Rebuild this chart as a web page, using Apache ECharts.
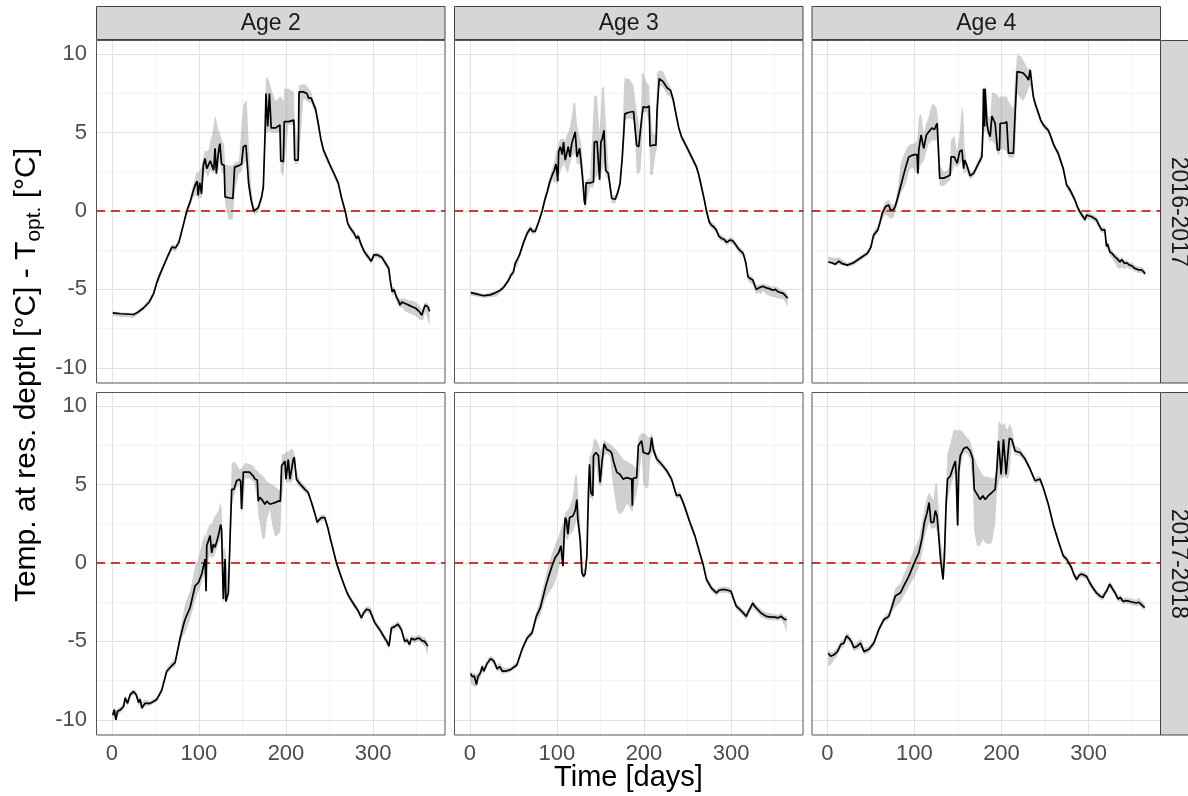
<!DOCTYPE html>
<html>
<head>
<meta charset="utf-8">
<script src="https://cdn.jsdelivr.net/npm/echarts@6/dist/echarts.min.js"></script>
<style>
  html, body { margin: 0; padding: 0; background: #ffffff; }
  #chart { width: 1188px; height: 796px; }
</style>
</head>
<body>
<div id="chart"></div>
<script>
// Each row: [day, mean, min, max] of temperature at reservoir depth minus T_opt (°C)
const age2_1617 = [
  [1,-6.5,-6.7,-6.4],[10,-6.55,-6.75,-6.45],[25,-6.6,-6.8,-6.5],[30,-6.45,-6.6,-6.3],[36,-6.2,-6.35,-6.05],
  [43,-5.8,-5.95,-5.6],[48,-5.25,-5.45,-5.1],[52,-4.5,-4.7,-4.3],[54,-4.2,-4.5,-4.0],[59,-3.55,-3.75,-3.4],
  [64,-2.9,-3.1,-2.7],[69,-2.3,-2.5,-2.1],[73,-2.35,-2.6,-2.2],[77,-2.0,-2.2,-1.7],[82,-0.9,-1.1,-0.7],
  [86,0.0,-0.3,0.2],[90,0.6,0.3,0.9],[93,1.2,0.8,1.6],[96,1.7,1.0,2.2],[98,1.9,1.0,2.6],[99,1.0,0.7,2.4],
  [101,1.8,0.9,2.6],[103,1.1,0.8,2.8],[105,2.9,2.0,3.4],[107,3.35,2.6,3.9],[109,2.7,2.3,3.8],[111,2.6,2.2,3.9],
  [113,3.2,2.6,4.5],[115,3.15,2.5,4.8],[117,2.6,2.4,5.5],[118.5,4.0,3.0,6.1],[120,2.4,2.2,5.8],[122,3.6,2.5,5.2],
  [124,4.3,3.2,5.0],[126,3.0,2.5,4.6],[129,2.9,2.3,4.2],[130,0.9,0.5,3.0],[134,0.85,-0.57,2.9],[139,0.8,-0.5,2.9],
  [141,2.8,1.2,3.1],[146,2.9,2.4,3.2],[149,3.0,2.5,5.5],[151,4.1,3.0,6.8],[154,4.2,3.2,7.0],[155,4.3,3.4,7.0],
  [157,1.8,1.2,4.5],[160,0.7,0.4,1.5],[163,0.0,-0.2,0.3],[165,-0.05,-0.2,0.2],[168,0.2,-0.1,0.4],[172,0.9,0.6,1.2],
  [174,1.55,1.2,2.0],[176,5.0,4.5,6.5],[177,7.5,5.0,8.5],[179,5.4,5.0,8.5],[181,7.5,5.1,8.2],[183,5.3,5.0,7.8],
  [188,5.3,5.0,7.0],[193,5.5,5.0,7.3],[194,3.2,2.5,7.3],[197,3.15,2.2,7.0],[198,5.7,3.0,7.8],[203,5.7,5.5,7.8],
  [209,5.8,5.5,7.6],[210,3.25,3.0,5.8],[214,3.25,3.0,4.0],[215,7.6,3.3,8.0],[220,7.6,7.2,8.1],[224,7.5,7.0,8.0],
  [226,7.2,6.9,7.8],[229,7.2,6.9,7.6],[231,6.9,6.6,7.2],[234,6.5,6.2,6.8],[237,5.6,5.3,5.9],[240,4.6,4.3,4.9],
  [243,3.9,3.6,4.1],[247,3.4,3.1,3.6],[250,3.0,2.8,3.2],[255,2.4,2.2,2.6],[260,1.8,1.5,2.0],[264,0.8,0.6,1.0],
  [268,0.0,-0.2,0.2],[271,-0.8,-1.0,-0.6],[274,-1.1,-1.3,-0.9],[278,-1.4,-1.6,-1.2],[281,-1.75,-1.95,-1.55],
  [283,-1.6,-1.8,-1.4],[286,-2.1,-2.3,-1.9],[290,-2.6,-2.8,-2.4],[294,-2.9,-3.1,-2.7],[298,-3.2,-3.4,-3.0],
  [301,-2.8,-3.0,-2.65],[305,-2.8,-3.0,-2.65],[310,-2.95,-3.1,-2.75],[314,-3.3,-3.5,-3.1],[318,-3.65,-3.85,-3.45],
  [320,-4.5,-4.8,-4.2],[322,-5.15,-5.4,-4.9],[324,-5.0,-5.3,-4.8],[327,-5.5,-5.8,-5.25],[329,-5.7,-6.0,-5.5],
  [331,-6.0,-6.2,-5.6],[333,-5.8,-6.1,-5.6],[337,-5.9,-6.4,-5.6],[341,-6.0,-6.5,-5.7],[345,-6.1,-6.6,-5.7],
  [349,-6.2,-6.7,-5.8],[353,-6.4,-6.9,-6.0],[356,-6.65,-7.0,-6.3],[358,-6.3,-6.9,-6.0],[360,-6.0,-6.4,-5.8],
  [363,-6.1,-7.0,-5.9],[365,-6.4,-7.3,-6.1]
];
const age3_1617 = [
  [1,-5.2,-5.4,-5.1],[8,-5.3,-5.45,-5.15],[16,-5.4,-5.55,-5.3],[23,-5.35,-5.5,-5.2],[28,-5.25,-5.45,-5.1],
  [30,-5.35,-5.5,-5.2],[35,-5.05,-5.2,-4.9],[39,-4.85,-5.0,-4.7],[44,-4.45,-4.6,-4.3],[47,-4.1,-4.3,-3.9],
  [50,-3.9,-4.1,-3.7],[52,-3.35,-3.6,-3.1],[54,-3.4,-3.6,-3.2],[57,-2.8,-3.0,-2.6],[62,-1.95,-2.15,-1.75],
  [66,-1.4,-1.6,-1.2],[69.5,-1.1,-1.3,-0.9],[72,-1.3,-1.5,-1.1],[75,-1.3,-1.5,-1.1],[79,-0.7,-0.9,-0.5],
  [83,0.0,-0.2,0.2],[86,0.7,0.4,1.0],[89,1.25,1.0,1.6],[92,1.9,1.6,2.3],[95,2.35,2.0,2.8],[97,2.6,1.8,3.2],
  [99,3.0,1.8,3.8],[101,1.9,1.7,4.0],[102,3.8,2.2,4.4],[104,4.1,2.5,4.6],[106,3.6,2.8,4.6],[107.6,4.4,3.0,4.6],
  [109.5,3.25,2.8,4.5],[111,3.6,2.5,4.8],[113,4.1,2.5,5.0],[115,3.45,3.0,5.4],[117,4.3,3.4,6.0],[119,4.4,3.6,6.9],
  [121,5.05,3.6,6.9],[123,3.45,3.0,5.5],[126,4.0,3.0,4.8],[128,3.0,2.5,4.2],[130,1.75,1.3,2.6],[131.5,0.6,0.3,1.8],
  [132.5,0.4,0.2,1.5],[133.5,1.8,0.5,2.0],[138,1.8,1.5,2.1],[142,1.85,1.5,6.5],[143,4.4,2.0,7.4],[146,4.45,2.2,7.3],
  [147.7,4.5,2.5,6.0],[149,2.0,1.8,5.0],[150.5,4.4,2.2,6.5],[152,4.6,2.6,7.9],[154,5.15,3.0,7.9],[156,2.6,2.2,5.8],
  [159,2.4,2.0,3.0],[161,1.6,1.2,2.0],[163,0.8,0.5,1.0],[167,0.75,0.5,1.0],[170,1.2,0.9,1.5],[172.5,1.75,1.5,2.0],
  [175,3.4,2.8,3.8],[177,5.2,4.0,8.0],[178,6.2,5.8,8.5],[183,6.3,5.9,8.4],[188,6.35,5.8,8.0],[190,6.3,4.5,7.0],
  [191.5,4.2,2.4,6.5],[194,4.1,2.4,5.7],[196,4.1,2.6,4.6],[197.5,6.0,3.8,8.8],[199,6.65,6.3,8.8],[203,6.6,6.3,8.2],
  [206,6.7,5.5,8.0],[207,4.15,2.3,6.5],[210,4.2,2.3,5.0],[213.7,4.2,3.8,4.8],[215,6.4,4.0,8.8],[217.5,8.45,8.0,9.0],
  [222,8.25,7.9,8.9],[226.7,7.85,7.4,8.3],[230.5,7.7,7.3,7.9],[233.6,7.1,6.8,7.3],[237.4,6.0,5.8,6.2],
  [240,5.3,5.1,5.5],[243,4.75,4.55,4.95],[249,4.1,3.9,4.3],[254.6,3.45,3.25,3.65],[260,2.85,2.65,3.05],
  [263,2.3,2.1,2.5],[266,1.55,1.35,1.75],[269,0.8,0.6,1.0],[271.8,0.0,-0.2,0.2],[275,-0.7,-0.9,-0.5],
  [277.5,-0.9,-1.1,-0.7],[280,-1.0,-1.2,-0.8],[283,-1.2,-1.4,-1.0],[286,-1.6,-1.8,-1.4],[289,-1.75,-1.95,-1.55],
  [292,-1.8,-2.0,-1.6],[295,-2.0,-2.2,-1.8],[299,-1.85,-2.05,-1.65],[302,-1.9,-2.1,-1.7],[306,-2.2,-2.4,-2.0],
  [309,-2.45,-2.65,-2.25],[314,-2.7,-2.9,-2.5],[317,-3.3,-3.5,-3.1],[319.5,-4.2,-4.45,-4.0],[322,-4.3,-4.6,-4.1],
  [325,-4.4,-4.7,-4.2],[327,-4.7,-5.0,-4.5],[329,-5.0,-5.3,-4.75],[332,-4.9,-5.2,-4.7],[334,-5.0,-5.3,-4.7],
  [336.6,-4.8,-5.1,-4.6],[340.5,-4.9,-5.3,-4.7],[344,-4.95,-5.4,-4.75],[348,-5.05,-5.5,-4.85],[351,-5.0,-5.5,-4.8],
  [354,-5.15,-5.6,-4.9],[357,-5.2,-5.6,-5.0],[360,-5.25,-5.6,-5.05],[362,-5.3,-5.8,-5.1],[365,-5.55,-6.1,-5.3]
];
const age4_1617 = [
  [1,-3.25,-3.35,-2.9],[5,-3.3,-3.4,-2.95],[9,-3.4,-3.5,-3.0],[13,-3.2,-3.4,-2.95],[17,-3.35,-3.45,-3.1],
  [23,-3.45,-3.55,-3.3],[30,-3.3,-3.45,-3.15],[38,-3.0,-3.15,-2.85],[46,-2.7,-2.85,-2.5],[50,-2.3,-2.5,-2.1],
  [53,-1.55,-1.8,-1.3],[58,-1.2,-1.4,-0.9],[61,-0.6,-0.9,-0.3],[63,-0.15,-0.5,0.2],[67,0.3,-0.2,0.6],
  [70.5,0.38,-0.4,0.7],[72.5,0.05,-0.5,0.5],[76,0.1,-0.4,0.4],[78,0.3,0.0,0.6],[81,0.9,0.5,1.5],[84,1.55,1.1,3.0],
  [88,2.4,1.5,3.6],[91,3.0,1.9,4.0],[93.5,3.45,2.5,4.2],[97,3.55,2.8,4.3],[100,3.6,2.6,4.3],[103,3.6,2.4,4.5],
  [104,2.4,2.2,5.0],[105,3.9,2.5,6.0],[107.6,4.85,3.0,6.2],[110.7,4.0,3.2,5.0],[113.7,4.85,3.8,5.6],
  [116.4,5.05,4.3,6.0],[120,5.3,4.5,6.8],[123,5.2,4.5,6.8],[126,5.6,4.5,6.5],[128,3.4,2.5,5.4],[129,2.1,1.6,3.0],
  [133.6,2.1,1.6,2.5],[138,2.2,1.8,2.6],[141,2.3,2.0,3.0],[142,3.45,2.3,4.5],[145.8,3.45,2.9,4.8],[149,3.05,2.8,3.8],
  [152,3.8,3.0,5.0],[154.6,3.9,3.2,6.8],[156.5,2.7,2.3,6.0],[157.6,3.25,2.5,4.0],[160,2.95,2.5,3.2],[164,2.25,2.0,2.5],
  [168,2.4,2.2,2.6],[173.7,3.05,2.8,3.3],[177.5,3.45,3.2,4.0],[178.6,5.05,4.2,7.6],[179.4,7.8,5.0,7.9],
  [180.5,5.4,5.0,7.9],[181.3,7.8,5.2,7.9],[183.2,5.6,5.0,7.0],[185,5.05,4.6,6.0],[187,4.75,4.4,6.0],[189,6.05,4.5,7.6],
  [192.7,5.6,4.2,7.5],[195.4,3.9,3.6,7.4],[197.7,3.9,3.6,7.2],[198.5,5.6,4.0,7.3],[203,5.6,3.9,7.3],[206,5.7,3.8,7.3],
  [208,3.7,3.4,7.0],[213.7,3.7,3.4,6.5],[215.6,6.2,3.6,8.5],[218,8.9,7.5,9.95],[222,8.85,7.2,9.9],[225,8.8,7.0,9.6],
  [229,8.55,7.5,9.2],[231,8.35,7.8,9.0],[233,9.0,8.0,9.2],[236.6,7.3,7.0,7.6],[239,6.8,6.5,7.1],[242.4,6.25,6.0,6.5],
  [245,5.8,5.6,6.0],[248,5.5,5.3,5.7],[251,5.3,5.1,5.5],[253.8,5.15,4.95,5.35],[257,4.7,4.5,4.9],[259.5,4.3,4.1,4.5],
  [262,4.0,3.8,4.2],[265,3.7,3.5,3.9],[268,3.2,3.0,3.4],[271,2.7,2.5,2.9],[274.8,1.65,1.45,1.85],[277,1.5,1.3,1.7],
  [280.5,1.15,0.95,1.4],[284.4,0.7,0.5,0.9],[287,0.3,0.1,0.5],[290,-0.05,-0.3,0.15],[293,-0.3,-0.5,-0.1],
  [296,-0.55,-0.75,-0.35],[297.7,-0.25,-0.45,-0.05],[300,-0.3,-0.5,-0.1],[303.4,-0.35,-0.55,-0.15],
  [306,-0.45,-0.65,-0.25],[309,-0.55,-0.75,-0.35],[312,-0.9,-1.1,-0.7],[315,-1.2,-1.4,-1.0],[318.7,-1.2,-1.4,-1.0],
  [320.6,-2.25,-2.5,-2.0],[322,-2.1,-2.35,-1.9],[324.4,-2.6,-2.85,-2.35],[327,-2.7,-3.0,-2.5],[330,-2.9,-3.3,-2.7],
  [333,-3.05,-3.6,-2.85],[336,-3.25,-3.7,-3.0],[338,-3.1,-3.6,-2.9],[341.6,-3.35,-3.7,-3.15],[344,-3.3,-3.6,-3.1],
  [347,-3.45,-3.7,-3.25],[350,-3.5,-3.75,-3.3],[353,-3.65,-3.85,-3.45],[357,-3.75,-3.95,-3.55],
  [360.7,-3.75,-3.95,-3.55],[363,-3.85,-4.05,-3.65],[365,-4.0,-4.15,-3.8]
];
const age2_1718 = [
  [1,-9.7,-10.1,-9.5],[2.7,-9.35,-9.7,-9.2],[4.6,-10.0,-10.1,-9.4],[6.5,-9.45,-9.7,-9.3],[10,-9.35,-9.55,-9.15],
  [13.4,-9.15,-9.35,-8.95],[15.3,-8.6,-8.9,-8.45],[18,-8.95,-9.15,-8.7],[21,-8.4,-8.6,-8.2],[24.8,-8.2,-8.4,-8.0],
  [28,-8.4,-8.6,-8.2],[30.6,-8.9,-9.1,-8.6],[32.5,-8.7,-8.95,-8.5],[34.4,-9.25,-9.4,-8.9],[38,-8.95,-9.15,-8.7],
  [44,-8.95,-9.1,-8.8],[51.6,-8.7,-8.85,-8.55],[57.3,-8.1,-8.3,-7.9],[63,-6.9,-7.1,-6.7],[68.8,-6.55,-6.75,-6.3],
  [72.6,-6.35,-6.6,-6.1],[78.4,-4.8,-5.1,-4.4],[82,-4.0,-4.6,-3.2],[84,-3.6,-4.5,-2.6],[89.8,-2.85,-3.6,-1.8],
  [95.6,-1.45,-2.4,-0.2],[99.4,-1.25,-1.8,0.3],[103.2,-0.7,-1.3,1.2],[107,0.25,-0.5,1.9],[108.2,-1.8,-1.9,1.5],
  [109,1.1,-0.3,2.0],[111,1.2,0.2,2.3],[112.8,1.75,0.5,2.5],[114.7,0.65,0.3,2.5],[116.6,1.2,0.4,2.8],
  [118.5,1.0,0.6,3.0],[122.3,1.75,1.2,3.3],[125,2.45,1.6,3.9],[126,2.15,1.6,3.5],[128,-2.3,-2.5,0.8],
  [130,0.25,-2.3,1.0],[131,-2.45,-2.6,0.5],[133.8,-1.9,-2.1,-1.0],[135.7,1.5,0.0,2.5],[137.6,4.7,3.5,6.3],
  [140.3,4.7,4.3,6.5],[143.3,5.25,4.8,6.3],[146.4,5.35,5.0,6.0],[148,5.2,3.5,6.0],[149,3.45,3.3,6.0],
  [151,5.8,3.4,6.2],[153,5.9,5.4,6.4],[158,5.8,5.4,6.3],[162.5,5.55,5.2,6.2],[164.4,5.35,4.8,6.0],[167,5.3,4.0,5.9],
  [168.2,3.95,3.0,5.8],[170,4.2,2.5,5.7],[173,4.0,1.5,5.6],[175.8,3.75,1.6,5.4],[178,3.95,2.8,5.2],
  [181.6,3.75,3.4,5.1],[184,3.8,2.5,5.0],[187.3,3.85,1.7,4.9],[191,3.95,1.8,4.7],[193.5,3.95,2.0,4.6],
  [195,6.2,3.9,6.9],[198.8,6.5,6.0,7.0],[200,5.35,5.1,7.1],[202.6,6.6,5.2,7.1],[204.5,5.35,5.1,7.2],
  [206.4,5.45,5.2,7.3],[208.3,6.6,5.3,7.2],[209.5,6.75,6.4,7.0],[212,5.35,5.1,6.0],[216,5.05,4.8,5.3],
  [221.7,4.7,4.5,4.95],[225.5,4.5,4.3,4.7],[229.4,3.85,3.65,4.05],[233,3.2,3.0,3.4],[235.9,2.6,2.4,2.8],
  [238,2.75,2.55,2.95],[240.8,2.9,2.7,3.1],[244.6,2.9,2.7,3.1],[248.5,2.15,1.95,2.35],[251,1.55,1.35,1.75],
  [254.2,0.85,0.65,1.05],[258,0.0,-0.2,0.2],[263.8,-0.95,-1.15,-0.75],[269.5,-1.8,-2.0,-1.6],[273,-2.2,-2.4,-2.0],
  [277,-2.55,-2.75,-2.35],[280,-2.8,-3.0,-2.6],[282.9,-3.05,-3.25,-2.85],[286.7,-3.5,-3.7,-3.3],[289,-3.2,-3.4,-3.0],
  [292.4,-2.95,-3.15,-2.75],[296,-3.0,-3.2,-2.8],[298,-3.1,-3.3,-2.9],[302,-3.8,-4.0,-3.6],[307.7,-4.25,-4.45,-4.05],
  [313.5,-4.8,-5.0,-4.6],[316,-5.0,-5.3,-4.8],[318.4,-5.3,-5.5,-5.0],[321,-4.15,-4.4,-3.95],[325,-4.05,-4.25,-3.85],
  [328.7,-3.9,-4.1,-3.7],[332.6,-4.25,-4.45,-4.0],[336.4,-5.0,-5.2,-4.75],[339,-4.9,-5.1,-4.7],[342,-5.2,-5.4,-4.95],
  [344,-4.8,-5.0,-4.6],[347.8,-4.9,-5.1,-4.7],[351,-4.8,-5.0,-4.6],[353.6,-4.8,-5.0,-4.55],[356,-4.95,-5.15,-4.7],
  [359.3,-5.0,-5.3,-4.75],[363,-5.3,-5.9,-5.0]
];
const age3_1718 = [
  [0.8,-7.05,-7.6,-6.9],[2.7,-7.25,-7.8,-7.0],[5,-7.2,-7.9,-7.0],[7.6,-7.75,-7.9,-7.1],[9.2,-7.25,-7.6,-7.0],
  [12.2,-7.0,-7.3,-6.8],[14.1,-6.6,-6.9,-6.4],[16,-6.9,-7.1,-6.6],[19.8,-6.4,-6.6,-6.2],[23.7,-6.1,-6.3,-5.9],
  [27.5,-6.25,-6.45,-6.05],[31.3,-6.75,-6.95,-6.5],[34.4,-6.6,-6.8,-6.35],[37,-6.9,-7.1,-6.6],[40.8,-6.9,-7.05,-6.7],
  [46.6,-6.8,-6.95,-6.65],[54,-6.5,-6.65,-6.3],[60,-5.5,-5.7,-5.3],[65.6,-4.8,-5.0,-4.6],[71.4,-4.45,-4.65,-4.25],
  [76.3,-3.4,-3.8,-3.1],[81,-2.85,-3.3,-2.3],[86.6,-1.6,-2.3,-0.9],[90.5,-0.85,-1.9,-0.1],[94.3,-0.2,-1.6,0.6],
  [98,0.35,-1.2,1.2],[102,0.65,-0.4,1.7],[104.6,1.1,0.3,2.2],[106.9,-0.2,-0.3,2.5],[108.4,1.95,0.8,2.7],
  [109.5,2.9,1.7,3.2],[111,2.7,1.5,3.3],[112.6,1.85,1.5,3.4],[114.5,2.9,1.8,3.6],[118.3,3.0,2.0,4.2],
  [121,3.35,2.4,5.6],[122.9,4.05,2.8,5.6],[124,2.8,2.2,4.5],[126.7,1.5,1.0,2.8],[128.6,-0.6,-0.8,0.8],
  [130.5,-0.85,-1.0,-0.4],[132.4,-0.7,-0.9,-0.4],[134.4,0.45,0.0,1.0],[136.3,4.7,3.5,5.6],[137.4,6.3,4.2,6.8],
  [139,4.5,4.2,6.9],[141.2,4.3,4.0,7.4],[142,6.85,4.3,7.9],[144.7,7.05,6.6,7.9],[147.7,6.85,5.0,7.6],
  [149.6,5.15,4.9,7.2],[151.5,6.3,5.0,7.3],[154.2,7.6,6.8,7.9],[157.2,7.25,7.0,7.7],[161,7.15,6.8,7.6],
  [163,7.0,5.5,7.5],[164.9,6.5,4.8,7.4],[168.7,5.8,3.4,7.2],[172.5,5.65,3.1,6.9],[176.3,5.35,3.3,6.6],
  [180,5.45,3.8,6.5],[183,5.4,3.6,6.4],[185.9,5.35,3.3,6.3],[186.6,3.65,3.2,6.3],[187.5,5.4,3.5,6.2],
  [191.6,5.45,4.5,6.0],[193.5,7.5,5.0,8.0],[197.3,7.8,7.0,8.3],[199.2,7.05,5.0,8.3],[202,7.0,4.8,8.2],
  [205,6.95,4.8,8.0],[206.9,7.15,6.5,8.0],[208.8,8.0,7.0,8.3],[210.7,7.25,7.0,7.8],[214.5,6.65,6.4,6.9],
  [220.2,6.3,6.1,6.5],[226,5.9,5.7,6.1],[231.7,5.35,5.15,5.55],[237.4,4.3,4.1,4.5],[241.2,4.35,4.15,4.55],
  [244,4.0,3.8,4.2],[247,3.55,3.35,3.75],[252.7,2.6,2.4,2.8],[258.4,1.75,1.55,1.95],[264,0.65,0.45,0.85],
  [268,-0.1,-0.3,0.1],[271.8,-1.05,-1.25,-0.85],[277.5,-1.6,-1.8,-1.4],[283.2,-1.9,-2.1,-1.7],[286,-1.75,-1.95,-1.55],
  [289,-1.7,-1.9,-1.5],[294,-1.7,-1.9,-1.5],[300,-1.8,-2.0,-1.6],[303,-2.3,-2.5,-2.1],[306,-2.75,-2.95,-2.55],
  [311.8,-3.05,-3.25,-2.85],[317.6,-3.4,-3.65,-3.15],[319,-3.2,-3.45,-2.95],[321.4,-2.95,-3.2,-2.75],
  [325,-2.55,-2.8,-2.35],[327,-2.75,-3.0,-2.55],[329,-2.85,-3.1,-2.65],[334.7,-3.2,-3.45,-2.95],[340.5,-3.4,-3.6,-3.15],
  [346,-3.45,-3.65,-3.2],[350,-3.45,-3.65,-3.25],[353.8,-3.5,-3.7,-3.3],[357.6,-3.4,-3.6,-3.15],[361.5,-3.6,-4.0,-3.4],
  [364,-3.6,-4.5,-3.4]
];
const age4_1718 = [
  [1,-5.75,-6.6,-5.5],[3.8,-5.95,-6.5,-5.7],[7.6,-5.85,-6.2,-5.6],[11.5,-5.65,-5.9,-5.4],[15.3,-5.2,-5.45,-4.95],
  [19,-5.1,-5.35,-4.85],[22,-4.65,-4.9,-4.45],[24.8,-4.8,-5.0,-4.55],[27.5,-5.0,-5.3,-4.75],[30.5,-5.4,-5.65,-5.15],
  [34.4,-5.3,-5.55,-5.05],[38,-5.1,-5.4,-4.85],[40,-5.2,-5.45,-4.95],[42,-5.65,-5.85,-5.4],[47.7,-5.5,-5.7,-5.3],
  [53.4,-5.1,-5.3,-4.9],[59,-4.25,-4.45,-4.05],[65,-3.6,-3.8,-3.4],[70.6,-3.4,-3.6,-3.1],[74.4,-2.75,-3.1,-2.4],
  [78,-2.1,-2.8,-1.6],[84,-1.9,-2.5,-1.3],[87.8,-1.45,-2.1,-0.7],[93.5,-0.85,-1.5,0.0],[99,-0.1,-1.0,0.8],
  [105,0.65,-0.3,1.5],[108.8,1.6,0.6,2.6],[111.5,2.6,1.6,3.5],[114.5,3.2,2.2,4.2],[116.8,3.85,2.6,4.5],
  [119,2.6,2.2,4.3],[122,2.6,2.2,4.0],[124,3.35,2.3,5.0],[126,3.0,2.0,5.1],[127.9,1.75,1.2,3.5],[129.8,0.35,0.0,1.5],
  [131.7,0.25,-0.2,0.8],[132.8,-1.05,-1.2,0.6],[134.4,0.35,-0.8,1.2],[136.3,3.65,2.5,5.0],[138,5.35,4.0,7.0],
  [141.2,5.55,4.8,7.6],[145,6.2,5.5,8.5],[147,6.5,5.8,8.5],[148,5.55,4.0,8.5],[149.6,2.4,2.3,8.4],[150.8,5.8,2.5,8.5],
  [152.7,6.85,6.0,8.5],[156.5,7.3,7.0,8.3],[160.3,7.4,7.0,8.0],[164,7.15,6.6,7.8],[167,6.65,5.0,7.2],
  [168.7,4.7,2.0,6.8],[171.8,4.4,1.1,6.3],[175.6,4.05,1.1,5.9],[178.6,4.3,1.5,5.6],[181.3,4.05,1.3,5.5],
  [185,4.3,1.2,5.5],[189,4.5,1.3,5.4],[192.7,4.7,2.5,5.5],[194.7,6.0,4.5,6.8],[196.6,7.8,5.0,9.0],[198.5,7.9,5.5,9.0],
  [199.6,5.65,5.4,8.8],[201,5.7,5.4,8.8],[202.3,7.9,5.5,8.9],[204.2,7.95,5.5,8.9],[205.3,5.65,5.4,8.6],
  [207.2,5.65,5.4,8.5],[209,7.95,5.6,8.9],[211.8,7.9,7.5,8.6],[215.6,7.15,6.9,7.5],[221.4,7.05,6.8,7.3],
  [227,6.65,6.45,6.85],[232.8,6.0,5.8,6.2],[238.5,5.25,5.05,5.45],[241,5.3,5.1,5.5],[244.3,5.35,5.15,5.55],
  [248,4.8,4.6,5.0],[253.8,3.75,3.55,3.95],[259.5,2.45,2.25,2.65],[265.3,1.4,1.2,1.6],[271,0.45,0.25,0.65],
  [274.8,0.25,0.05,0.45],[280.5,-0.3,-0.5,-0.1],[283,-0.7,-0.9,-0.5],[286.3,-1.05,-1.25,-0.85],[289,-0.8,-1.0,-0.6],
  [292,-0.7,-0.9,-0.5],[297.7,-0.85,-1.05,-0.65],[300,-1.1,-1.3,-0.9],[303.4,-1.45,-1.65,-1.25],[309,-1.9,-2.1,-1.7],
  [313,-2.1,-2.3,-1.9],[316.8,-2.2,-2.4,-2.0],[318,-2.0,-2.2,-1.8],[320.6,-1.8,-2.0,-1.6],[324.4,-1.35,-1.55,-1.15],
  [328.2,-1.7,-1.9,-1.5],[331,-1.95,-2.15,-1.75],[334,-2.3,-2.5,-2.1],[336.6,-2.2,-2.4,-2.0],[339.7,-2.45,-2.65,-2.25],
  [343,-2.4,-2.6,-2.2],[347.3,-2.45,-2.65,-2.25],[351,-2.5,-2.7,-2.3],[355,-2.55,-2.75,-2.35],[358,-2.5,-2.7,-2.2],
  [360.7,-2.65,-2.85,-2.4],[364.5,-2.85,-3.05,-2.6]
];

const ages = ['Age 2', 'Age 3', 'Age 4'];
const seasons = ['2016-2017', '2017-2018'];
const xTicks = [0, 100, 200, 300];
const xMinorTicks = [50, 150, 250, 350];
const yTicks = [-10, -5, 0, 5, 10];
const yMinorTicks = [-7.5, -2.5, 2.5, 7.5];
const referenceLine = 0;
const panelData = [
  [age2_1617, age3_1617, age4_1617],
  [age2_1718, age3_1718, age4_1718]
];

// facet layout (pixels)
const FONT = '"Liberation Sans", Arial, Helvetica, sans-serif';
const colLeft = [96, 454, 811.5];
const rowTop = [40, 392];
const panelW = 349.5;
const panelH = 343.5;
const stripH = 34;
const X_RANGE = [-18.25, 383.25];
const Y_RANGE = [-11.0, 10.91];

const grids = [], xAxes = [], yAxes = [], series = [], graphics = [];

const majorGrid = { color: '#e2e2e2', width: 1.1, type: 'solid' };
const minorGrid = { color: '#efefef', width: 0.7, type: 'solid' };

panelData.forEach((row, r) => {
  row.forEach((rows, c) => {
    const k = r * 3 + c;
    const bottomRow = r === panelData.length - 1;
    const leftCol = c === 0;
    grids.push({ left: colLeft[c], top: rowTop[r], width: panelW, height: panelH, show: false, containLabel: false });
    xAxes.push({
      type: 'value', gridIndex: k, min: X_RANGE[0], max: X_RANGE[1],
      splitLine: { show: false }, axisLine: { show: false },
      axisTick: { show: bottomRow, customValues: xTicks, length: 5, lineStyle: { color: '#333333', width: 1 } },
      axisLabel: {
        show: bottomRow, customValues: xTicks, margin: 7,
        color: '#4d4d4d', fontSize: 22, fontFamily: FONT,
        formatter: v => (xTicks.indexOf(v) >= 0 ? String(v) : '')
      }
    });
    yAxes.push({
      type: 'value', gridIndex: k, min: Y_RANGE[0], max: Y_RANGE[1],
      splitLine: { show: false }, axisLine: { show: false },
      axisTick: { show: leftCol, customValues: yTicks, length: 5, lineStyle: { color: '#333333', width: 1 } },
      axisLabel: {
        show: leftCol, customValues: yTicks, margin: 9,
        color: '#4d4d4d', fontSize: 22, fontFamily: FONT,
        formatter: v => (yTicks.indexOf(v) >= 0 ? String(v) : '')
      }
    });

    // background grid lines
    const gl = [];
    xMinorTicks.forEach(v => gl.push({ xAxis: v, lineStyle: minorGrid }));
    yMinorTicks.forEach(v => gl.push({ yAxis: v, lineStyle: minorGrid }));
    xTicks.forEach(v => gl.push({ xAxis: v, lineStyle: majorGrid }));
    yTicks.forEach(v => gl.push({ yAxis: v, lineStyle: majorGrid }));
    series.push({
      type: 'line', xAxisIndex: k, yAxisIndex: k, data: [], z: 1, silent: true,
      markLine: {
        z: 1, silent: true, symbol: ['none', 'none'], label: { show: false }, animation: false,
        emphasis: { disabled: true }, data: gl
      }
    });

    // min-max ribbon
    series.push({
      type: 'custom', xAxisIndex: k, yAxisIndex: k, z: 2, silent: true, clip: true,
      data: rows, encode: { x: 0, y: [2, 3] },
      renderItem: (params, api) => {
        if (params.dataIndex !== 0) return null;
        const pts = [];
        for (let i = 0; i < rows.length; i++) pts.push(api.coord([rows[i][0], rows[i][2]]));
        for (let i = rows.length - 1; i >= 0; i--) pts.push(api.coord([rows[i][0], rows[i][3]]));
        return { type: 'polygon', shape: { points: pts }, style: { fill: 'rgba(150,150,150,0.45)', stroke: null } };
      }
    });

    // optimum reference line
    series.push({
      type: 'line', xAxisIndex: k, yAxisIndex: k, data: [], z: 3, silent: true,
      markLine: {
        z: 3, silent: true, symbol: ['none', 'none'], label: { show: false }, animation: false,
        emphasis: { disabled: true },
        data: [{ yAxis: referenceLine }],
        lineStyle: { color: '#d8373f', width: 1.8, type: [9, 6] }
      }
    });

    // mean temperature line
    series.push({
      type: 'line', xAxisIndex: k, yAxisIndex: k, z: 10, silent: true,
      data: rows.map(d => [d[0], d[1]]),
      showSymbol: false, symbol: 'none',
      lineStyle: { color: '#000000', width: 1.7 },
      emphasis: { disabled: true }
    });

    // panel border
    graphics.push({
      type: 'rect', z: 100, silent: true,
      shape: { x: colLeft[c] + 0.5, y: rowTop[r] + 0.5, width: panelW - 1, height: panelH - 1 },
      style: { fill: null, stroke: '#555555', lineWidth: 1 }
    });
  });
});

// column strips
ages.forEach((label, c) => {
  graphics.push({
    type: 'rect', z: 100, silent: true,
    shape: { x: colLeft[c] + 0.5, y: rowTop[0] - stripH + 0.5, width: panelW - 1, height: stripH - 1 },
    style: { fill: '#d6d6d6', stroke: '#444444', lineWidth: 1 }
  });
  graphics.push({
    type: 'text', z: 101, silent: true,
    x: colLeft[c] + panelW / 2, y: rowTop[0] - stripH / 2 + 1,
    style: {
      text: label, fontSize: 23, fontFamily: FONT, fill: '#1a1a1a',
      align: 'center', verticalAlign: 'middle', textAlign: 'center', textVerticalAlign: 'middle'
    }
  });
});

// row strips
const stripX = colLeft[2] + panelW;
seasons.forEach((label, r) => {
  graphics.push({
    type: 'rect', z: 100, silent: true,
    shape: { x: stripX - 0.5, y: rowTop[r] + 0.5, width: 40, height: panelH - 1 },
    style: { fill: '#d6d6d6', stroke: '#444444', lineWidth: 1 }
  });
  graphics.push({
    type: 'text', z: 101, silent: true,
    x: stripX + 17, y: rowTop[r] + panelH / 2, rotation: -Math.PI / 2,
    style: {
      text: label, fontSize: 23, fontFamily: FONT, fill: '#1a1a1a',
      align: 'center', verticalAlign: 'middle', textAlign: 'center', textVerticalAlign: 'middle'
    }
  });
});

// axis titles
graphics.push({
  type: 'text', z: 101, silent: true,
  x: (colLeft[0] + stripX) / 2, y: 778,
  style: {
    text: 'Time [days]', fontSize: 29, fontFamily: FONT, fill: '#000000',
    align: 'center', verticalAlign: 'middle', textAlign: 'center', textVerticalAlign: 'middle'
  }
});
graphics.push({
  type: 'text', z: 101, silent: true,
  x: 27, y: 375, rotation: Math.PI / 2,
  style: {
    text: '{a|Temp. at res. depth [°C] - T}{s|opt.}{a| [°C]}',
    fontSize: 30, fontFamily: FONT, fill: '#000000',
    align: 'center', verticalAlign: 'middle', textAlign: 'center', textVerticalAlign: 'middle',
    rich: {
      a: { fontSize: 30, fontFamily: FONT, fill: '#000000', lineHeight: 36, verticalAlign: 'middle' },
      s: { fontSize: 21, fontFamily: FONT, fill: '#000000', lineHeight: 21, verticalAlign: 'bottom' }
    }
  }
});

const chart = echarts.init(document.getElementById('chart'), null, { renderer: 'canvas' });
chart.setOption({
  animation: false,
  backgroundColor: '#ffffff',
  grid: grids,
  xAxis: xAxes,
  yAxis: yAxes,
  series: series,
  graphic: { elements: graphics }
});
</script>
</body>
</html>
